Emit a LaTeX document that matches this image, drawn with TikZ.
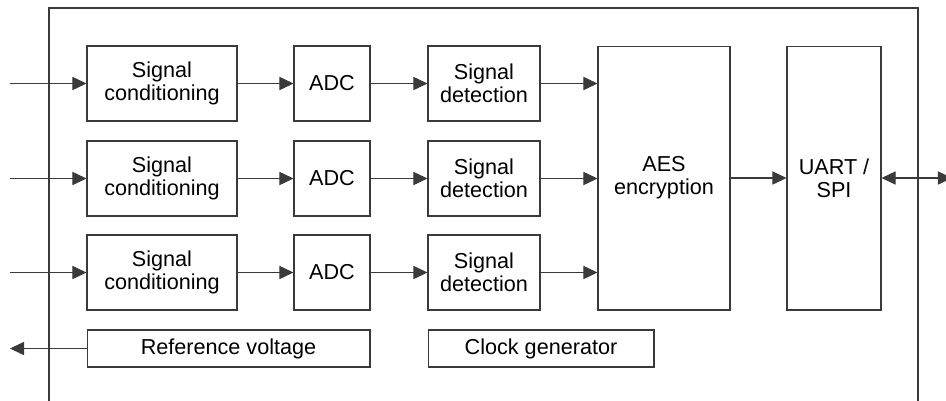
\documentclass[tikz,border=0pt]{standalone}
\usepackage{fontspec}
\setmainfont{Liberation Sans}
\usetikzlibrary{arrows.meta}
\definecolor{linegray}{HTML}{3A3A3A}
\tikzset{
  blk/.style={draw=linegray, line width=0.6pt, align=center, inner sep=0pt,
    font=\fontsize{12.3}{13}\selectfont},
  sig/.style={draw=linegray, line width=0.6pt, -{Triangle[length=8pt,width=7.5pt]}}
}
\begin{document}
\begin{tikzpicture}[x=0.02cm,y=-0.02cm]
\useasboundingbox (0,0) rectangle (946,400);
\draw[linegray, line width=0.6pt] (49,410) -- (49,8) -- (918,8) -- (918,410);
\node[blk, minimum width=3cm, minimum height=1.5cm] (sc1) at (162,83.5) {Signal\\conditioning};
\node[blk, minimum width=3cm, minimum height=1.5cm] (sc2) at (162,178.5) {Signal\\conditioning};
\node[blk, minimum width=3cm, minimum height=1.5cm] (sc3) at (162,272.5) {Signal\\conditioning};
\node[blk, minimum width=1.52cm, minimum height=1.5cm] (adc1) at (332,83.5) {ADC};
\node[blk, minimum width=1.52cm, minimum height=1.5cm] (adc2) at (332,178.5) {ADC};
\node[blk, minimum width=1.52cm, minimum height=1.5cm] (adc3) at (332,272.5) {ADC};
\node[blk, minimum width=2.24cm, minimum height=1.5cm] (sd1) at (484,83.5) {Signal\\detection};
\node[blk, minimum width=2.24cm, minimum height=1.5cm] (sd2) at (484,178.5) {Signal\\detection};
\node[blk, minimum width=2.24cm, minimum height=1.5cm] (sd3) at (484,272.5) {Signal\\detection};
\node[blk, minimum width=2.64cm, minimum height=5.28cm] (aes) at (664,178) {AES\\encryption};
\node[blk, minimum width=1.88cm, minimum height=5.28cm] (uart) at (834,178) {UART /\\SPI};
\node[blk, minimum width=5.66cm, minimum height=0.74cm] (vref) at (228.5,348.5) {Reference voltage};
\node[blk, minimum width=4.52cm, minimum height=0.74cm] (clk) at (541,348.5) {Clock generator};
\coordinate (in1) at (10,83.5);
\coordinate (in2) at (10,178.5);
\coordinate (in3) at (10,272.5);
\coordinate (vout) at (10,348.5);
\coordinate (bus) at (952,178);
\draw[sig] (in1) -- (sc1);
\draw[sig] (in2) -- (sc2);
\draw[sig] (in3) -- (sc3);
\draw[sig] (sc1) -- (adc1);
\draw[sig] (sc2) -- (adc2);
\draw[sig] (sc3) -- (adc3);
\draw[sig] (adc1) -- (sd1);
\draw[sig] (adc2) -- (sd2);
\draw[sig] (adc3) -- (sd3);
\draw[sig] (sd1.east) -- (sd1.east -| aes.west);
\draw[sig] (sd2.east) -- (sd2.east -| aes.west);
\draw[sig] (sd3.east) -- (sd3.east -| aes.west);
\draw[sig] (aes) -- (uart);
\draw[sig, {Triangle[length=8pt,width=7.5pt]}-{Triangle[length=8pt,width=7.5pt]}] (uart) -- (bus);
\draw[sig] (vref) -- (vout);
\end{tikzpicture}
\end{document}
